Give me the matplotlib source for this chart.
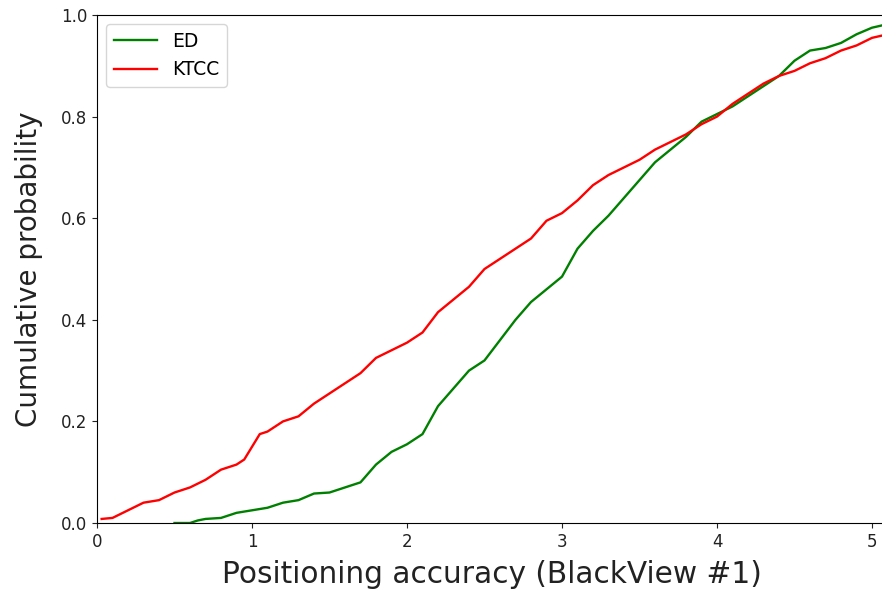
import matplotlib
matplotlib.use("Agg")
import matplotlib.pyplot as plt

ed_x = [0.5, 0.6, 0.65, 0.7, 0.8, 0.85, 0.9, 1.0, 1.1, 1.2, 1.3, 1.4, 1.5, 1.6, 1.7,
        1.8, 1.9, 2.0, 2.1, 2.2, 2.3, 2.4, 2.5, 2.6, 2.7, 2.8, 2.9, 3.0, 3.1, 3.2,
        3.3, 3.4, 3.5, 3.6, 3.7, 3.8, 3.9, 4.0, 4.1, 4.2, 4.3, 4.4, 4.5, 4.6, 4.7,
        4.8, 4.9, 5.0, 5.1]
ed_y = [0.0, 0.0, 0.005, 0.008, 0.01, 0.015, 0.02, 0.025, 0.03, 0.04, 0.045, 0.058, 0.06, 0.07, 0.08,
        0.115, 0.14, 0.155, 0.175, 0.23, 0.265, 0.30, 0.32, 0.36, 0.40, 0.435, 0.46, 0.485, 0.54, 0.575,
        0.605, 0.64, 0.675, 0.71, 0.735, 0.76, 0.79, 0.805, 0.82, 0.84, 0.86, 0.88, 0.91, 0.93, 0.935,
        0.945, 0.962, 0.975, 0.982]

ktcc_x = [0.03, 0.1, 0.2, 0.3, 0.4, 0.5, 0.6, 0.7, 0.8, 0.9, 0.95, 1.0, 1.05, 1.1, 1.2,
          1.3, 1.4, 1.5, 1.6, 1.7, 1.8, 1.9, 2.0, 2.1, 2.2, 2.3, 2.4, 2.5, 2.6, 2.7,
          2.8, 2.9, 3.0, 3.1, 3.2, 3.3, 3.4, 3.5, 3.6, 3.7, 3.8, 3.9, 4.0, 4.1, 4.2,
          4.3, 4.4, 4.5, 4.6, 4.7, 4.8, 4.9, 5.0, 5.1]
ktcc_y = [0.008, 0.01, 0.025, 0.04, 0.045, 0.06, 0.07, 0.085, 0.105, 0.115, 0.125, 0.15, 0.175, 0.18, 0.20,
          0.21, 0.235, 0.255, 0.275, 0.295, 0.325, 0.34, 0.355, 0.375, 0.415, 0.44, 0.465, 0.50, 0.52, 0.54,
          0.56, 0.595, 0.61, 0.635, 0.665, 0.685, 0.70, 0.715, 0.735, 0.75, 0.765, 0.785, 0.80, 0.825, 0.845,
          0.865, 0.88, 0.89, 0.905, 0.915, 0.93, 0.94, 0.955, 0.962]

x_ticks = [0, 1, 2, 3, 4, 5]
y_ticks = [0.0, 0.2, 0.4, 0.6, 0.8, 1.0]

fig = plt.figure(figsize=(8.82, 5.92), dpi=100)
W, H = 882, 592
left_px, right_px, top_px, bottom_px = 97, 97 + 5.1 * 155, 15, 523
ax = fig.add_axes([left_px / W, (H - bottom_px) / H, (right_px - left_px) / W, (bottom_px - top_px) / H])

ax.plot(ed_x, ed_y, color="green", lw=1.7, label="ED")
ax.plot(ktcc_x, ktcc_y, color="red", lw=1.7, label="KTCC")

ax.set_xlim(0, 5.1)
ax.set_ylim(0, 1.0)
ax.set_xticks(x_ticks)
ax.set_xticklabels([str(t) for t in x_ticks])
ax.set_yticks(y_ticks)
ax.set_yticklabels([f"{t:.1f}" for t in y_ticks])
ax.tick_params(labelsize=12, colors="#222222")
ax.set_xlabel("Positioning accuracy (BlackView #1)", fontsize=21.3, labelpad=7, color="#222222")
ax.set_ylabel("Cumulative probability", fontsize=20, labelpad=13, color="#222222")
ax.legend(loc="upper left", fontsize=13.5, handlelength=2.3)

fig.savefig("out.png", dpi=100)
